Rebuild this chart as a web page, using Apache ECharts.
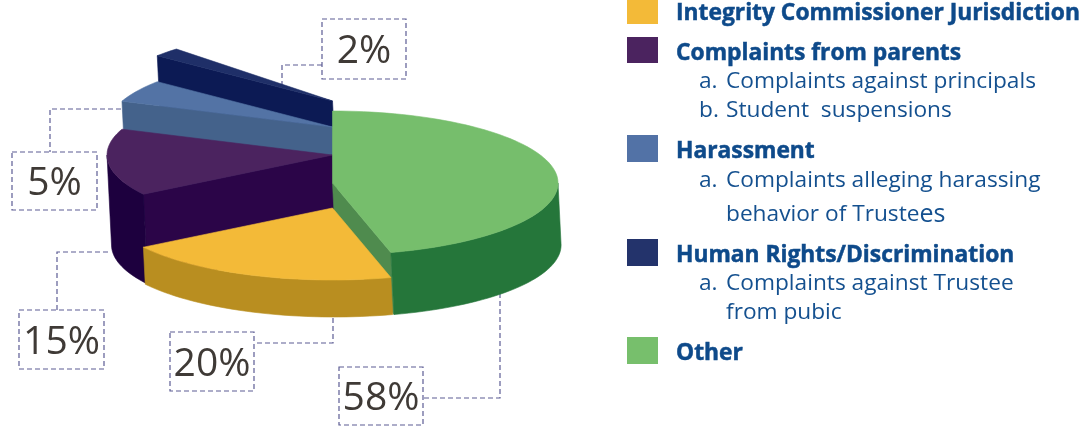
<!DOCTYPE html>
<html>
<head>
<meta charset="utf-8">
<style>
  html, body { margin: 0; padding: 0; background: #fff; }
  #chart { width: 1085px; height: 426px; }
</style>
<script src="https://cdn.jsdelivr.net/npm/echarts@6/dist/echarts.min.js"></script>
</head>
<body>
<div id="chart"></div>
<script>
const categories = ["Integrity Commissioner Jurisdiction", "Complaints from parents", "Harassment", "Human Rights/Discrimination", "Other"]
const percentValues = [20, 15, 5, 2, 58]
const subLines = [
  [],
  [["a.", "Complaints against principals"], ["b.", "Student  suspensions"]],
  [["a.", "Complaints alleging harassing"], ["", "behavior of Trustees"]],
  [["a.", "Complaints against Trustee"], ["", "from pubic"]],
  [],
]

// look of each slice, in the order of categories
const topColors = ["#F3BA38", "#4B235F", "#5373A5", "#1F2F68", "#76BE6C"]
const wallColors = ["#B98E20", "#1D003E", "#44628B", "#0C1A54", "#25763A"]
const faceColors = [null, "#2B0548", "#44628B", "#0C1A54", "#4F8B4E"]
const swatchColors = ["#F3BA38", "#4B235F", "#5272A6", "#23336B", "#77BF6C"]
const sliceHeights = [37, 90, 118, 144, 62]
const paintOrder = [3, 2, 1, 4, 0]

const cx = 332.5
const baseY = 245
const rx = 225.5
const ry = 72
const lean = 0.05 // walls drift right on the way down, as in the picture
const firstAngle = 165
const otherVisibleFrom = 360 // the picture cuts the big slice off at 12 o'clock

// boxes: x, y, w, h and the leader line that joins them to the pie
const boxes = [
  { box: [170, 332, 84, 59], line: [[333, 310], [333, 343], [254, 343]] },
  { box: [19, 310, 85, 59], line: [[108, 252], [57, 252], [57, 310]] },
  { box: [12, 152, 85, 58], line: [[121, 109], [50, 109], [50, 152]] },
  { box: [322, 19, 84, 60], line: [[322, 65], [282, 65], [282, 90]] },
  { box: [339, 367, 84, 58], line: [[500, 285], [500, 398], [423, 398]] },
]
const legendRows = [
  { swatch: [-4, 28], title: 13.5, subs: [] },
  { swatch: [37, 26], title: 53.5, subs: [82, 111] },
  { swatch: [135, 27], title: 151.5, subs: [181, 215] },
  { swatch: [239, 27], title: 255.5, subs: [284, 313] },
  { swatch: [337, 27], title: 353.5, subs: [] },
]

// cumulative angles, degrees clockwise from 12 o'clock
let running = firstAngle
const angles = percentValues.map((v) => {
  const start = running
  running += v * 3.6
  return [start, running]
})

function pt(deg, y0, shift) {
  const a = (deg * Math.PI) / 180
  return [cx + rx * Math.sin(a) + shift, y0 - ry * Math.cos(a)]
}

function arc(from, to, y0, shift) {
  const pts = []
  const steps = Math.max(2, Math.ceil(Math.abs(to - from) / 2))
  for (let k = 0; k <= steps; k++) pts.push(pt(from + ((to - from) * k) / steps, y0, shift))
  return pts
}

function poly(points, color) {
  return {
    type: "polygon",
    shape: { points },
    style: { fill: color, stroke: color, lineWidth: 0.6 },
  }
}

function renderSlice(params, api) {
  const i = api.value(0)
  const share = api.value(1)
  let start = angles[i][0]
  const end = start + share * 3.6
  if (i === 4) start = otherVisibleFrom
  const h = sliceHeights[i]
  const topY = baseY - h
  const drift = h * lean
  const apex = [cx, topY]
  const children = []

  // radial face that looks towards us
  const faceAngle = i === 4 ? end : start
  if (faceColors[i]) {
    const rim = pt(faceAngle, topY, 0)
    children.push(poly([apex, rim, [rim[0] + drift, rim[1] + h], [cx + drift, baseY]], faceColors[i]))
  }

  // outer wall, only the front half of the ellipse
  const turns = Math.floor(start / 360)
  const wallFrom = Math.max(start, 90 + turns * 360)
  const wallTo = Math.min(end, 270 + turns * 360)
  if (wallTo > wallFrom) {
    const upper = arc(wallFrom, wallTo, topY, 0)
    const lower = arc(wallTo, wallFrom, baseY, drift)
    children.push(poly(upper.concat(lower), wallColors[i]))
  }

  children.push(poly([apex].concat(arc(start, end, topY, 0)), topColors[i]))
  return { type: "group", children }
}

const graphics = []

boxes.forEach((b, i) => {
  const [x, y, w, h] = b.box
  graphics.push({
    type: "polyline",
    shape: { points: b.line },
    style: { fill: null, stroke: "#5C5C94", lineWidth: 1.2, lineDash: [5, 3] },
  })
  graphics.push({
    type: "rect",
    shape: { x, y, width: w, height: h },
    style: { fill: "#fff", stroke: "#5C5C94", lineWidth: 1.2, lineDash: [5, 3] },
  })
  graphics.push({
    type: "text",
    style: {
      x: x + w / 2,
      y: y + h / 2 + 3,
      text: percentValues[i] + "%",
      align: "center",
      verticalAlign: "middle",
      fill: "#3F3A36",
      font: '39px "Open Sans"',
    },
  })
})

const subFont = '22.7px "Open Sans"'

categories.forEach((name, i) => {
  const row = legendRows[i]
  graphics.push({
    type: "rect",
    shape: { x: 627, y: row.swatch[0], width: 31, height: row.swatch[1] },
    style: { fill: swatchColors[i] },
  })
  graphics.push({
    type: "text",
    style: {
      x: 676,
      y: row.title,
      text: name,
      verticalAlign: "middle",
      fill: "#0E4A8A",
      stroke: "#0E4A8A",
      lineWidth: 0.5,
      font: '700 22.8px "Open Sans"',
    },
  })
  subLines[i].forEach((line, k) => {
    if (line[0]) {
      graphics.push({
        type: "text",
        style: { x: 699, y: row.subs[k], text: line[0], verticalAlign: "middle", fill: "#14508F", font: subFont },
      })
    }
    // the last two letters of Trustees are set larger in the picture
    const oversized = line[1].endsWith("Trustees")
    graphics.push({
      type: "text",
      style: {
        x: 726,
        y: row.subs[k],
        text: oversized ? "{a|" + line[1].slice(0, -2) + "}{b|" + line[1].slice(-2) + "}" : line[1],
        verticalAlign: "middle",
        fill: "#14508F",
        font: subFont,
        rich: oversized
          ? {
              a: { fill: "#14508F", font: subFont },
              b: { fill: "#14508F", font: '25px "Open Sans"' },
            }
          : undefined,
      },
    })
  })
})

const myChart = echarts.init(document.getElementById("chart"))
myChart.setOption({
  animation: false,
  backgroundColor: "#fff",
  graphic: { elements: graphics },
  series: [
    {
      type: "custom",
      coordinateSystem: "none",
      z: 5,
      silent: true,
      data: paintOrder.map((i) => [i, percentValues[i], categories[i]]),
      renderItem: renderSlice,
    },
  ],
})
</script>
</body>
</html>
